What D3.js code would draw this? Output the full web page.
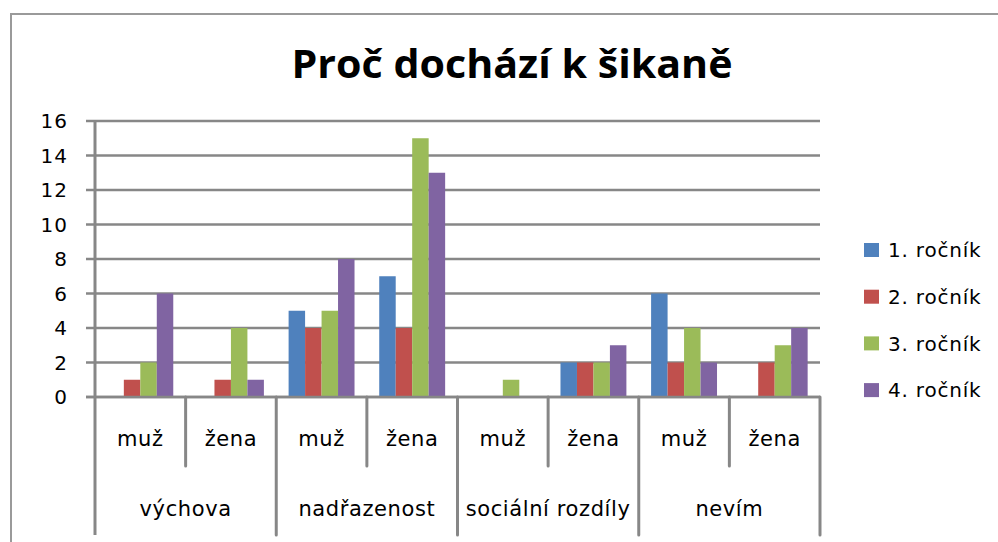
<!DOCTYPE html>
<html>
<head>
<meta charset="utf-8">
<title>Proč dochází k šikaně</title>
<style>
body { margin: 0; background: #fff; }
svg text { font-family: "DejaVu Sans", sans-serif; fill: #000; }
</style>
</head>
<body>
<svg width="998" height="542"></svg>
<script src="https://d3js.org/d3.v7.min.js"></script>
<script>
// data
var groups = ["výchova", "nadřazenost", "sociální rozdíly", "nevím"];
var genders = ["muž", "žena"];
var series = ["1. ročník", "2. ročník", "3. ročník", "4. ročník"];
var colors = ["#4F81BD", "#C0504D", "#9BBB59", "#8064A2"];
// one row per (group, gender), values per ročník
var rocnik1 = [0, 0, 5, 7, 0, 2, 6, 0];
var rocnik2 = [1, 1, 4, 4, 0, 2, 2, 2];
var rocnik3 = [2, 4, 5, 15, 1, 2, 4, 3];
var rocnik4 = [6, 1, 8, 13, 0, 3, 2, 4];
var yTicks = [0, 2, 4, 6, 8, 10, 12, 14, 16];

var values = [rocnik1, rocnik2, rocnik3, rocnik4];
var rows = [];
groups.forEach(function(g) {
  genders.forEach(function(s) { rows.push(g + "|" + s); });
});
var data = rows.map(function(r, i) {
  return { key: r, vals: values.map(function(v) { return v[i]; }) };
});

var svg = d3.select("svg");
var plotLeft = 95, plotRight = 820, plotTop = 121, plotBottom = 397;
var gridColor = "#878787";

// chart frame (top and left edges only are visible)
svg.append("path")
  .attr("d", "M11,542V14H998")
  .attr("fill", "none")
  .attr("stroke", "#9a9a9a")
  .attr("stroke-width", 2);

svg.append("text")
  .attr("x", 512).attr("y", 78)
  .attr("text-anchor", "middle")
  .attr("textLength", 441)
  .attr("lengthAdjust", "spacingAndGlyphs")
  .style("font-family", "'Open Sans', sans-serif")
  .style("font-weight", "bold")
  .style("font-size", "39px")
  .text("Proč dochází k šikaně");

var y = d3.scaleLinear().domain([0, 16]).range([plotBottom, plotTop]);
var x0 = d3.scaleBand().domain(rows).range([plotLeft, plotRight])
  .paddingInner(0.2727).paddingOuter(0.13635);
var x1 = d3.scaleBand().domain(d3.range(4)).range([0, x0.bandwidth()]);
var xg = d3.scaleBand().domain(groups).range([plotLeft, plotRight]);

// gridlines with tick stubs
svg.append("g").selectAll("line").data(yTicks).enter().append("line")
  .attr("x1", 86).attr("x2", plotRight)
  .attr("y1", function(d) { return y(d); })
  .attr("y2", function(d) { return y(d); })
  .attr("stroke", gridColor).attr("stroke-width", 2.5);

// y labels
svg.append("g").selectAll("text").data(yTicks).enter().append("text")
  .attr("x", 68)
  .attr("y", function(d) { return y(d); })
  .attr("dy", "0.36em")
  .attr("text-anchor", "end")
  .style("font-size", "20px")
  .style("letter-spacing", "1px")
  .text(function(d) { return d; });

// bars
svg.append("g").selectAll("g").data(data).enter().append("g")
  .attr("transform", function(d) { return "translate(" + x0(d.key) + ",0)"; })
  .selectAll("rect").data(function(d) { return d.vals; }).enter().append("rect")
  .attr("x", function(d, i) { return x1(i); })
  .attr("width", x1.bandwidth())
  .attr("y", function(d) { return y(d); })
  .attr("height", function(d) { return plotBottom - y(d); })
  .attr("fill", function(d, i) { return colors[i]; });

// zero line redrawn over bars
svg.append("line")
  .attr("x1", 86).attr("x2", plotRight)
  .attr("y1", plotBottom).attr("y2", plotBottom)
  .attr("stroke", gridColor).attr("stroke-width", 2.5);

// y axis line
svg.append("line")
  .attr("x1", plotLeft).attr("x2", plotLeft)
  .attr("y1", plotTop - 1).attr("y2", 535)
  .attr("stroke", gridColor).attr("stroke-width", 3);

// category axis separators
var step = (plotRight - plotLeft) / rows.length;
var seps = d3.range(1, rows.length + 1).map(function(i) { return plotLeft + i * step; });
svg.append("g").selectAll("line").data(seps).enter().append("line")
  .attr("x1", function(d) { return d; }).attr("x2", function(d) { return d; })
  .attr("y1", plotBottom)
  .attr("y2", function(d, i) { return i % 2 === 0 ? 466 : 535; })
  .attr("stroke", gridColor).attr("stroke-width", 3)
  .attr("stroke-linecap", "round");

// gender labels
svg.append("g").selectAll("text").data(rows).enter().append("text")
  .attr("x", function(d) { return x0(d) + x0.bandwidth() / 2; })
  .attr("y", 438)
  .attr("dy", "0.36em")
  .attr("text-anchor", "middle")
  .style("font-size", "21px")
  .style("letter-spacing", "0.6px")
  .text(function(d) { return d.split("|")[1]; });

// group labels
svg.append("g").selectAll("text").data(groups).enter().append("text")
  .attr("x", function(d) { return xg(d) + xg.bandwidth() / 2; })
  .attr("y", 508)
  .attr("dy", "0.36em")
  .attr("text-anchor", "middle")
  .style("font-size", "21px")
  .style("letter-spacing", "0.6px")
  .text(function(d) { return d; });

// legend
var legend = svg.append("g").selectAll("g").data(series).enter().append("g")
  .attr("transform", function(d, i) { return "translate(864," + (250 + i * 46.7) + ")"; });
legend.append("rect")
  .attr("x", 0).attr("y", -7)
  .attr("width", 15).attr("height", 14)
  .attr("fill", function(d, i) { return colors[i]; });
legend.append("text")
  .attr("x", 24).attr("y", 0)
  .attr("dy", "0.36em")
  .style("font-size", "20px")
  .style("letter-spacing", "0.8px")
  .text(function(d) { return d; });
</script>
</body>
</html>
